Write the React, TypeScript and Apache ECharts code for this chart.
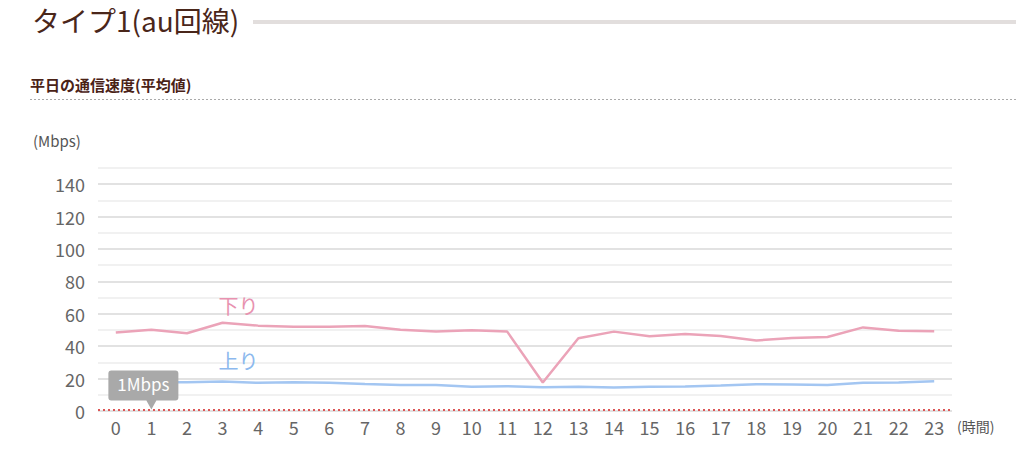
import React, { useEffect, useRef } from "react";
import * as echarts from "echarts";

const hours = ["0","1","2","3","4","5","6","7","8","9","10","11","12","13","14","15","16","17","18","19","20","21","22","23"];
const downValues = [48.5, 50.2, 48, 54.5, 52.7, 52, 52, 52.5, 50.2, 49, 49.8, 49, 17.6, 44.9, 49, 46.1, 47.6, 46.3, 43.5, 45.1, 45.7, 51.6, 49.6, 49.2];
const upValues = [17.6, 17.7, 17.8, 18.2, 17.4, 17.8, 17.4, 16.7, 16.1, 16, 14.9, 15.3, 14.7, 14.9, 14.5, 14.9, 15.1, 15.7, 16.5, 16.3, 16, 17.4, 17.6, 18.4];
const refSpeed = 1;
const labelIndex = 3;

const FONT = '"Noto Sans CJK JP", "Noto Sans", sans-serif';

export default function App() {
  const ref = useRef<HTMLDivElement>(null);
  useEffect(() => {
    if (!ref.current) return;
    const chart = echarts.init(ref.current, null, { renderer: "svg" });
    const mk = (vals: number[], name: string, color: string, dy: number) =>
      vals.map((v, i) =>
        i === labelIndex
          ? { value: v, label: { show: true, position: "top", distance: 3, offset: [16, dy], formatter: name, color, fontSize: 20, fontFamily: FONT } }
          : v
      );
    chart.setOption({
      animation: false,
      textStyle: { fontFamily: FONT },
      grid: { left: 98, right: 72, top: 168, bottom: 44 },
      graphic: [
        { type: "text", left: 32, top: 6, style: { text: "タイプ1(au回線)", fontSize: 28, fill: "#4a261a", fontFamily: FONT } },
        { type: "rect", shape: { x: 253, y: 20, width: 763, height: 4 }, style: { fill: "#e2dedd" } },
        { type: "text", left: 30, top: 77, style: { text: "平日の通信速度(平均値)", fontSize: 15, fontWeight: "bold", fill: "#4a2216", fontFamily: FONT } },
        { type: "line", shape: { x1: 30, y1: 99.5, x2: 1016, y2: 99.5 }, style: { stroke: "#aaa", lineWidth: 1, lineDash: [2, 2] } },
        { type: "text", left: 33, top: 133, style: { text: "(Mbps)", fontSize: 15, fill: "#555", fontFamily: FONT } },
        { type: "text", left: 957, top: 419, style: { text: "(時間)", fontSize: 14, fill: "#555", fontFamily: FONT } },
      ],
      xAxis: {
        type: "category",
        data: hours,
        boundaryGap: true,
        axisLine: { show: false },
        axisTick: { show: false },
        axisLabel: { color: "#666", fontSize: 18, margin: 7, fontFamily: FONT },
      },
      yAxis: {
        type: "value",
        min: 0,
        max: 150,
        interval: 10,
        axisLine: { show: false },
        axisTick: { show: false },
        axisLabel: {
          color: "#666",
          fontSize: 18,
          margin: 13,
          fontFamily: FONT,
          formatter: (v: number) => (v % 20 === 0 && v <= 140 ? String(v) : ""),
        },
        splitLine: { lineStyle: { color: ["#d8d8d8", "#ededed"], width: 1.5 } },
      },
      series: [
        {
          type: "line",
          data: mk(downValues, "下り", "#e892b0", -4),
          symbol: "circle",
          symbolSize: 0,
          showSymbol: true,
          label: { show: false },
          lineStyle: { color: "#eba3b8", width: 2.5 },
          z: 3,
        },
        {
          type: "line",
          data: mk(upValues, "上り", "#8cb9ee", -8),
          symbol: "circle",
          symbolSize: 0,
          showSymbol: true,
          label: { show: false },
          lineStyle: { color: "#a3c6f2", width: 2.5 },
          z: 3,
          markLine: {
            silent: true,
            symbol: "none",
            label: { show: false },
            lineStyle: { color: "#dd5555", type: [2, 3], width: 2 },
            data: [{ yAxis: refSpeed }],
          },
          markPoint: {
            silent: true,
            data: [{ coord: ["1", refSpeed] }],
            symbol: "path://M3,0 H67 Q70,0 70,3 V27 Q70,30 67,30 H48 L43,39 L38,30 H3 Q0,30 0,27 V3 Q0,0 3,0 Z",
            symbolSize: [70, 39],
            symbolOffset: [-8, -19.5],
            itemStyle: { color: "#a9a9a9" },
            label: { show: true, formatter: "1Mbps", color: "#fff", fontSize: 17, fontFamily: FONT, offset: [0, -6] },
            z: 5,
          },
        },
      ],
    });
    return () => chart.dispose();
  }, []);
  return <div ref={ref} style={{ position: "fixed", left: 0, top: 0, width: 1024, height: 455, background: "#fff" }} />;
}
